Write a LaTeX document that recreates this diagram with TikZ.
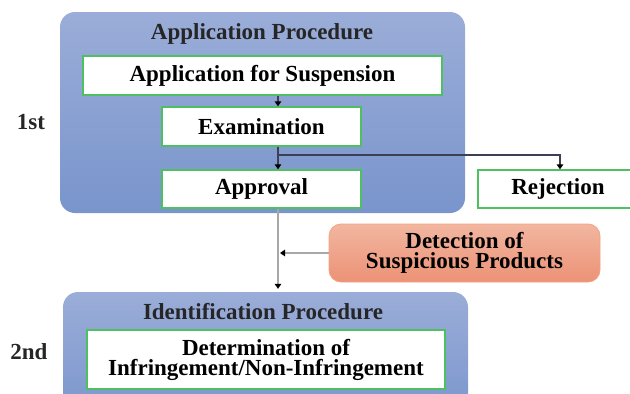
\documentclass[tikz,border=0pt]{standalone}
\usepackage{fontspec}
\setmainfont{Liberation Serif}
\usepackage{xcolor}
\usetikzlibrary{arrows.meta}

\definecolor{procTop}{RGB}{155,173,216}
\definecolor{procBot}{RGB}{121,149,204}
\definecolor{stepLine}{RGB}{78,192,98}
\definecolor{detTop}{RGB}{242,182,160}
\definecolor{detBot}{RGB}{236,146,118}
\definecolor{detLine}{RGB}{242,164,128}
\definecolor{darkLine}{RGB}{60,64,86}
\definecolor{grayLine}{RGB}{168,168,168}

\newcommand\boxfont{\fontsize{23}{20}\selectfont\bfseries}

\tikzset{
  procbox/.style={rounded corners=15pt, top color=procTop, bottom color=procBot, inner sep=0pt},
  stepbox/.style={draw=stepLine, line width=1.3pt, fill=white, inner sep=0pt, align=center, font=\boxfont},
  detbox/.style={rounded corners=12pt, draw=detLine, line width=0.8pt, top color=detTop, bottom color=detBot, inner sep=0pt, align=center, font=\boxfont},
  titletext/.style={inner sep=0pt, font=\boxfont, text=black!85},
  tip/.style={-{Triangle[length=5pt,width=6.5pt,black]}},
  darkarrow/.style={tip, draw=darkLine, line width=1.1pt},
  grayarrow/.style={tip, draw=grayLine, line width=2pt}
}

\begin{document}
\begin{tikzpicture}[x=1pt,y=1pt,yscale=-1]
\useasboundingbox (0,0) rectangle (630,394);

% 1st stage
\node [procbox, minimum width=405pt, minimum height=201pt] (appproc) at (262.5,112.5) {};
\node [titletext] (apptitle) at (262,34) {Application Procedure};
\node [stepbox, minimum width=359pt, minimum height=39pt] (appsusp) at (262.5,75.5) {Application for Suspension};
\node [stepbox, minimum width=199pt, minimum height=39pt] (exam) at (261.5,126.5) {Examination};
\node [stepbox, minimum width=199pt, minimum height=38pt] (approval) at (261.5,189) {Approval};
\node [stepbox, minimum width=160pt, minimum height=38pt] (reject) at (558,189) {Rejection};

% detection
\node [detbox, minimum width=271pt, minimum height=58pt] (detect) at (464.5,253) {Detection of\\Suspicious Products};

% 2nd stage
\node [procbox, minimum width=405pt, minimum height=130pt] (idproc) at (265.5,357) {};
\node [titletext] (idtitle) at (263,312) {Identification Procedure};
\node [stepbox, minimum width=358pt, minimum height=59pt] (determ) at (266,359.5) {\fontsize{23}{21}\selectfont Determination of\\Infringement/Non-Infringement};

\node [titletext] (first) at (31,122) {1st};
\node [titletext] (second) at (29,352) {2nd};

% connectors
\coordinate (spine) at (278,0);
\coordinate (fork) at (278,155);
\draw [darkarrow] (appsusp.south -| spine) -- (exam.north -| spine);
\draw [darkarrow] (exam.south -| spine) -- (approval.north -| spine);
\draw [darkarrow] (fork) -| ([xshift=2pt]reject.north);
\draw [grayarrow, shorten >=3pt] (approval.south -| spine) -- (idproc.north -| spine);
\draw [grayarrow, shorten >=2pt] (detect.west) -- (detect.west -| spine);
\end{tikzpicture}
\end{document}
